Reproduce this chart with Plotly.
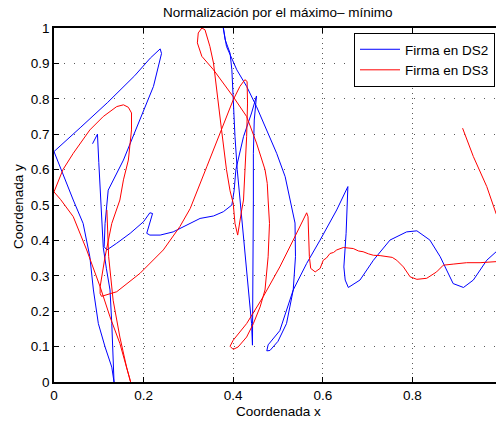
import plotly.graph_objects as go

# ---------------- data ----------------
blue_x = [0.086, 0.097, 0.100, 0.103, 0.106, 0.110, 0.117, 0.125, 0.129, 0.132, 0.134,
          0.129, 0.114, 0.099, 0.088, 0.080, 0.065, 0.043, 0.020, 0.000,
          0.060, 0.120, 0.180, 0.215, 0.237, 0.240,
          0.222, 0.192, 0.155, 0.121, 0.114, 0.112, 0.118,
          0.140, 0.170, 0.200, 0.214, 0.220, 0.207, 0.214, 0.237, 0.266, 0.304, 0.326, 0.356, 0.378, 0.397,
          0.402, 0.406, 0.423, 0.441, 0.452,
          0.447, 0.445, 0.445, 0.444, 0.443,
          0.441, 0.434, 0.426, 0.419, 0.409, 0.404, 0.400, 0.397, 0.393, 0.382, 0.378,
          0.385, 0.408, 0.430, 0.452, 0.475, 0.497, 0.516, 0.527, 0.538, 0.539, 0.534, 0.519, 0.500, 0.482, 0.475,
          0.478, 0.504, 0.534, 0.564, 0.594, 0.631, 0.656,
          0.652, 0.647, 0.650, 0.657, 0.683, 0.713, 0.750, 0.787, 0.810, 0.839, 0.862, 0.891, 0.914, 0.936, 0.966, 0.987, 1.000]
blue_y = [0.673, 0.700, 0.620, 0.540, 0.448, 0.380, 0.320, 0.260, 0.165, 0.060, 0.000,
          0.042, 0.099, 0.165, 0.260, 0.354, 0.448, 0.514, 0.590, 0.651,
          0.720, 0.790, 0.865, 0.915, 0.941, 0.928,
          0.835, 0.740, 0.627, 0.542, 0.448, 0.382, 0.373,
          0.392, 0.420, 0.453, 0.478, 0.476, 0.420, 0.415, 0.415, 0.424, 0.448, 0.462, 0.469, 0.481, 0.500,
          0.540, 0.600, 0.693, 0.760, 0.808,
          0.740, 0.646, 0.514, 0.300, 0.104,
          0.165, 0.260, 0.382, 0.486, 0.600, 0.693, 0.797, 0.882, 0.929, 0.967, 1.000,
          0.948, 0.882, 0.835, 0.778, 0.712, 0.646, 0.580, 0.514, 0.449, 0.354, 0.260, 0.165, 0.115, 0.089, 0.088,
          0.105, 0.145, 0.260, 0.335, 0.401, 0.486, 0.552,
          0.420, 0.325, 0.288, 0.267, 0.288, 0.344, 0.401, 0.424, 0.427, 0.401, 0.354, 0.278, 0.267, 0.288, 0.344, 0.368, 0.372]

red_x = [0.118, 0.122, 0.132, 0.147, 0.162, 0.171,
         0.164, 0.147, 0.125, 0.103, 0.073, 0.043, 0.015, 0.000,
         0.020, 0.043, 0.080, 0.110, 0.140, 0.155, 0.166, 0.173, 0.173, 0.166, 0.155, 0.147, 0.129, 0.114, 0.103, 0.103, 0.106,
         0.140, 0.192, 0.244, 0.281, 0.304, 0.341, 0.371, 0.400, 0.415, 0.426, 0.431, 0.432, 0.430, 0.426, 0.423, 0.419, 0.414, 0.410,
         0.404, 0.400, 0.393, 0.385, 0.374, 0.363, 0.356, 0.348, 0.337, 0.330, 0.322, 0.320, 0.330, 0.356,
         0.400, 0.430, 0.452, 0.471, 0.476, 0.478, 0.481, 0.478, 0.471, 0.460, 0.445, 0.430, 0.411, 0.400, 0.393, 0.400,
         0.430, 0.467, 0.504, 0.534, 0.556, 0.564, 0.567, 0.570, 0.573, 0.583, 0.594, 0.601, 0.608, 0.616, 0.624, 0.631, 0.646,
         0.657, 0.668, 0.680, 0.690, 0.702, 0.713, 0.728, 0.743, 0.755, 0.765, 0.780, 0.795, 0.810, 0.832, 0.854, 0.869, 0.880, 0.891, 0.921, 0.951, 0.987, 1.000,
         None,
         0.912, 0.936, 0.966, 0.987, 1.000]
red_y = [0.486, 0.354, 0.231, 0.127, 0.042, 0.000,
         0.033, 0.109, 0.184, 0.269, 0.373, 0.467, 0.515, 0.537,
         0.600, 0.646, 0.712, 0.750, 0.778, 0.783, 0.776, 0.760, 0.712, 0.627, 0.571, 0.514, 0.448, 0.354, 0.269, 0.250, 0.242,
         0.255, 0.307, 0.373, 0.439, 0.490, 0.608, 0.703, 0.797, 0.835, 0.854, 0.849, 0.788, 0.693, 0.600, 0.514, 0.486, 0.439, 0.415,
         0.448, 0.505, 0.540, 0.600, 0.712, 0.835, 0.901, 0.948, 0.995, 1.000, 0.986, 0.958, 0.920, 0.882,
         0.806, 0.750, 0.675, 0.600, 0.561, 0.514, 0.448, 0.354, 0.260, 0.212, 0.165, 0.127, 0.099, 0.092, 0.101, 0.118,
         0.165, 0.241, 0.325, 0.401, 0.458, 0.478, 0.467, 0.354, 0.321, 0.311, 0.321, 0.344, 0.350, 0.363, 0.366, 0.373, 0.380,
         0.378, 0.377, 0.370, 0.368, 0.362, 0.358, 0.357, 0.354, 0.352, 0.344, 0.325, 0.297, 0.290, 0.293, 0.311, 0.330, 0.331, 0.333, 0.337, 0.337, 0.340, 0.342,
         None,
         0.717, 0.637, 0.552, 0.475, 0.440]

x_ticks = [0, 0.2, 0.4, 0.6, 0.8]
x_tick_labels = ["0", "0.2", "0.4", "0.6", "0.8"]
y_ticks = [0, 0.1, 0.2, 0.3, 0.4, 0.5, 0.6, 0.7, 0.8, 0.9, 1.0]
y_tick_labels = ["0", "0.1", "0.2", "0.3", "0.4", "0.5", "0.6", "0.7", "0.8", "0.9", "1"]

series_names = ["Firma en DS2", "Firma en DS3"]
title_text = "Normalización por el máximo– mínimo"
x_label = "Coordenada x"
y_label = "Coordenada y"

FONT = "Liberation Sans, Arial, Helvetica, sans-serif"

fig = go.Figure()
fig.add_trace(go.Scatter(x=blue_x, y=blue_y, mode="lines", name=series_names[0],
                         line=dict(color="#0000ff", width=1)))
fig.add_trace(go.Scatter(x=red_x, y=red_y, mode="lines", name=series_names[1],
                         line=dict(color="#ff0000", width=1)))

L, T, B = 54, 28, 40
W, H = 496, 422
pw = W - L
ph = H - T - B

fig.update_layout(
    width=W, height=H,
    margin=dict(l=L, r=0, t=T, b=B, pad=0),
    paper_bgcolor="white", plot_bgcolor="white",
    font=dict(family=FONT, size=13.5, color="black"),
    showlegend=True,
    legend=dict(x=(495 - L) / pw, y=(H - B - 33) / ph, xanchor="right", yanchor="top",
                bgcolor="white", bordercolor="black", borderwidth=1,
                font=dict(family=FONT, size=13.5, color="black"),
                itemwidth=40, tracegroupgap=0),
    xaxis=dict(range=[0, pw / 448.0], tickvals=x_ticks, ticktext=x_tick_labels,
               showline=True, linecolor="black", linewidth=1.5, mirror="ticks",
               ticks="inside", ticklen=5, tickcolor="black", tickwidth=1,
               showgrid=True, gridcolor="#5a5a5a", griddash="1px,4px", gridwidth=1,
               zeroline=False, fixedrange=True),
    yaxis=dict(range=[0, 1], tickvals=y_ticks, ticktext=y_tick_labels,
               showline=True, linecolor="black", linewidth=1.5, mirror=False,
               ticks="inside", ticklen=5, tickcolor="black", tickwidth=1,
               showgrid=True, gridcolor="#5a5a5a", griddash="1px,9px", gridwidth=1,
               zeroline=False, fixedrange=True),
    annotations=[
        dict(text=title_text, xref="paper", yref="paper", x=(278 - L) / pw, y=(H - B - 13) / ph,
             xanchor="center", yanchor="middle", showarrow=False, font=dict(size=13.5)),
        dict(text=x_label, xref="paper", yref="paper", x=(278 - L) / pw, y=(H - B - 411) / ph,
             xanchor="center", yanchor="middle", showarrow=False, font=dict(size=13.5)),
        dict(text=y_label, xref="paper", yref="paper", x=(18 - L) / pw, y=(H - B - 207) / ph,
             xanchor="center", yanchor="middle", showarrow=False, textangle=-90, font=dict(size=13.5)),
    ],
)

fig.write_html("out.html", config={"displayModeBar": False})
